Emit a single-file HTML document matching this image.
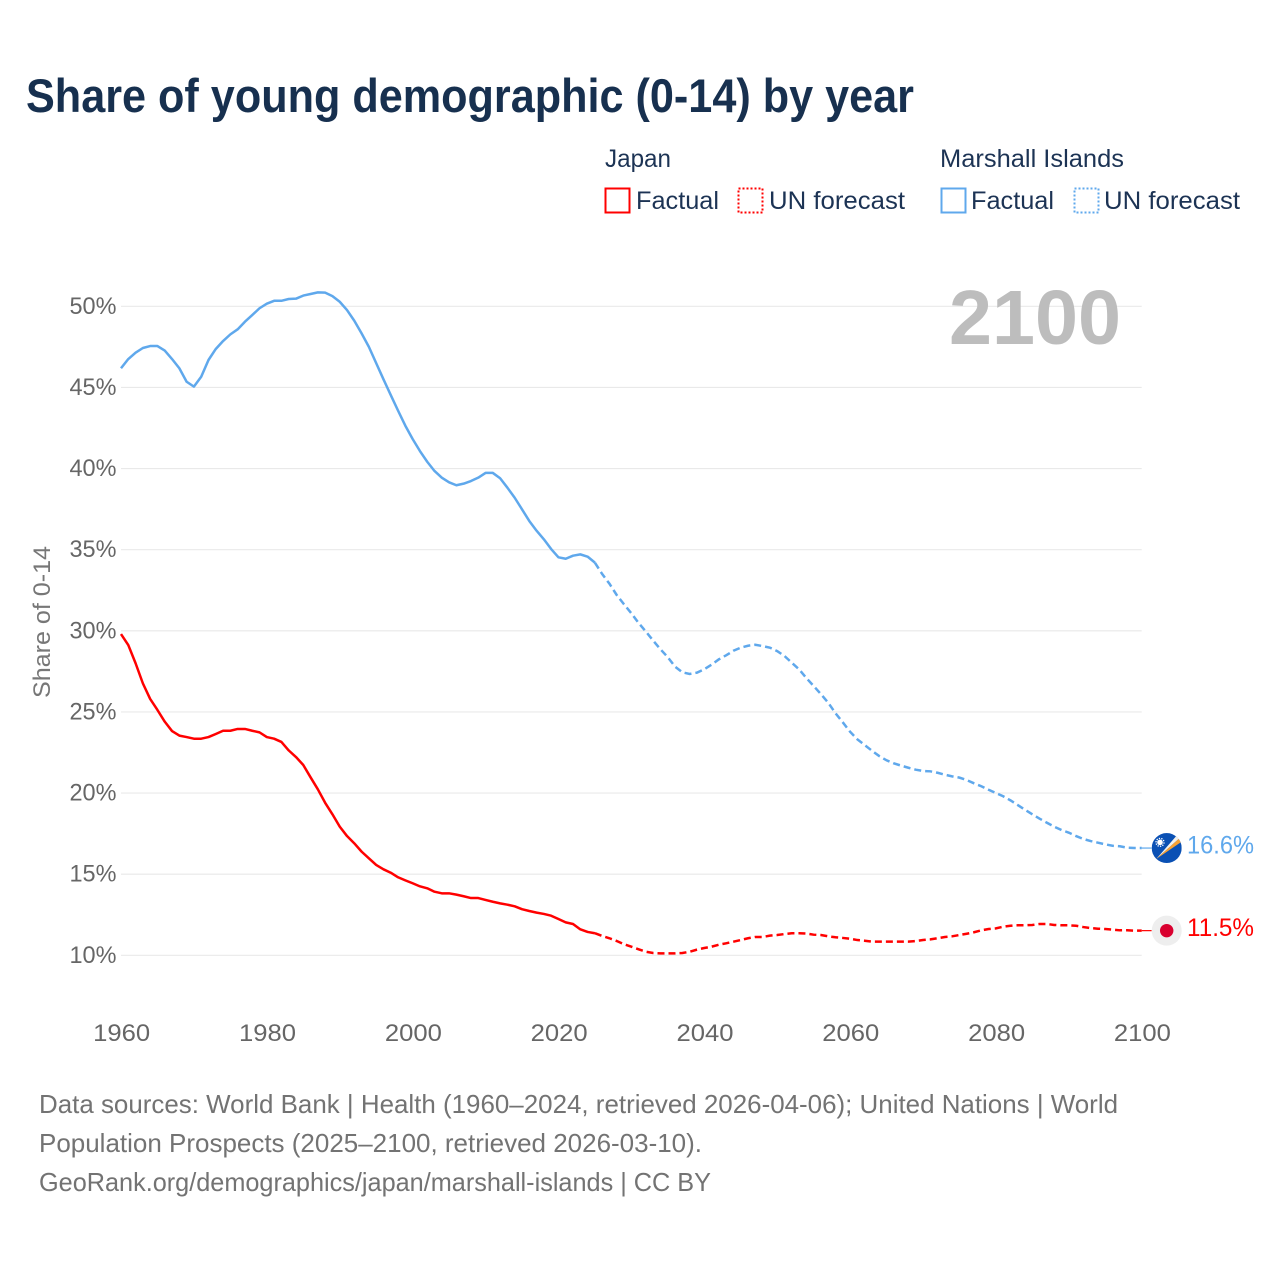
<!DOCTYPE html>
<html lang="en">
<head>
<meta charset="utf-8">
<title>Share of young demographic (0-14) by year</title>
<style>
  html, body { margin: 0; padding: 0; background: #fff; }
  #chart { display: block; width: 1280px; height: 1280px; font-family: "Liberation Sans", sans-serif; }
</style>
</head>
<body>
<svg id="chart" xmlns="http://www.w3.org/2000/svg" width="1280" height="1280" viewBox="0 0 1280 1280">
  <rect x="0" y="0" width="1280" height="1280" fill="#ffffff"/>
  <text x="26" y="112" font-size="47" font-weight="700" fill="#17304f" textLength="888" lengthAdjust="spacingAndGlyphs">Share of young demographic (0-14) by year</text>

  <g font-size="25" fill="#1c3354">
    <text x="605" y="167" textLength="66" lengthAdjust="spacingAndGlyphs">Japan</text>
    <text x="940" y="167" textLength="184" lengthAdjust="spacingAndGlyphs">Marshall Islands</text>
    <rect x="605.5" y="188.5" width="24" height="24" fill="none" stroke="#ff0000" stroke-width="2"/>
    <text x="636" y="209" textLength="83" lengthAdjust="spacingAndGlyphs">Factual</text>
    <rect x="738.5" y="188.5" width="24" height="24" fill="none" stroke="#ff0000" stroke-width="2" stroke-dasharray="2 2"/>
    <text x="769" y="209" textLength="136" lengthAdjust="spacingAndGlyphs">UN forecast</text>
    <rect x="941.5" y="188.5" width="24" height="24" fill="none" stroke="#5fa8ec" stroke-width="2"/>
    <text x="971" y="209" textLength="83" lengthAdjust="spacingAndGlyphs">Factual</text>
    <rect x="1074.5" y="188.5" width="24" height="24" fill="none" stroke="#5fa8ec" stroke-width="2" stroke-dasharray="2 2"/>
    <text x="1104" y="209" textLength="136" lengthAdjust="spacingAndGlyphs">UN forecast</text>
  </g>

  <g id="grid"></g>
  <g id="y-ticks" font-size="24" fill="#666666" text-anchor="end"></g>
  <g id="x-ticks" font-size="24" fill="#666666" text-anchor="middle"></g>
  <text transform="translate(50 622) rotate(-90)" text-anchor="middle" font-size="24" fill="#777777" textLength="152" lengthAdjust="spacingAndGlyphs">Share of 0-14</text>

  <text x="949" y="344" font-size="77" font-weight="700" fill="#bdbdbd" textLength="172" lengthAdjust="spacingAndGlyphs">2100</text>

  <g id="series"></g>
  <g id="end-markers"></g>

  <g font-size="26" fill="#737373">
    <text x="39" y="1113" textLength="1079" lengthAdjust="spacingAndGlyphs">Data sources: World Bank | Health (1960–2024, retrieved 2026-04-06); United Nations | World</text>
    <text x="39" y="1152" textLength="663" lengthAdjust="spacingAndGlyphs">Population Prospects (2025–2100, retrieved 2026-03-10).</text>
    <text x="39" y="1191" textLength="672" lengthAdjust="spacingAndGlyphs">GeoRank.org/demographics/japan/marshall-islands | CC BY</text>
  </g>
</svg>
<script>
const firstYear = 1960;
const lastFactualYear = 2025;
const xTickYears = [1960, 1980, 2000, 2020, 2040, 2060, 2080, 2100];
const xTickLabels = ["1960", "1980", "2000", "2020", "2040", "2060", "2080", "2100"];
const yTickValues = [10, 15, 20, 25, 30, 35, 40, 45, 50];
const yTickLabels = ["10%", "15%", "20%", "25%", "30%", "35%", "40%", "45%", "50%"];
const japanValues = [
  29.8,29.12,28.0,26.76,25.8,25.12,24.4,23.82,23.54,23.45,
  23.35,23.35,23.45,23.64,23.84,23.84,23.95,23.95,23.84,23.74,
  23.45,23.35,23.15,22.63,22.22,21.73,20.97,20.23,19.4,18.69,
  17.93,17.35,16.9,16.39,15.98,15.57,15.3,15.09,14.81,14.62,
  14.44,14.25,14.13,13.92,13.82,13.82,13.74,13.64,13.53,13.53,
  13.41,13.3,13.2,13.12,13.02,12.84,12.73,12.63,12.55,12.44,
  12.24,12.03,11.93,11.6,11.44,11.36,11.19,11.05,10.88,10.68,
  10.53,10.37,10.22,10.14,10.12,10.12,10.12,10.14,10.22,10.35,
  10.45,10.53,10.65,10.74,10.84,10.94,11.05,11.13,11.13,11.21,
  11.25,11.31,11.36,11.36,11.34,11.27,11.25,11.17,11.11,11.07,
  11.02,10.94,10.9,10.84,10.84,10.84,10.84,10.84,10.84,10.88,
  10.94,10.98,11.05,11.13,11.17,11.25,11.33,11.42,11.54,11.62,
  11.66,11.76,11.82,11.85,11.85,11.87,11.93,11.93,11.87,11.85,
  11.85,11.82,11.74,11.68,11.64,11.62,11.58,11.54,11.54,11.52,
  11.52
];
const marshallValues = [
  46.18,46.75,47.14,47.43,47.55,47.55,47.27,46.75,46.18,45.35,
  45.05,45.66,46.69,47.37,47.86,48.27,48.58,49.05,49.46,49.88,
  50.16,50.34,50.34,50.45,50.47,50.66,50.76,50.86,50.84,50.63,
  50.28,49.77,49.11,48.33,47.5,46.5,45.5,44.53,43.57,42.64,
  41.82,41.08,40.42,39.85,39.44,39.15,38.97,39.07,39.23,39.44,
  39.73,39.73,39.4,38.82,38.2,37.49,36.77,36.17,35.64,35.04,
  34.53,34.44,34.63,34.71,34.57,34.2,33.5,32.9,32.2,31.63,
  31.08,30.48,29.95,29.39,28.86,28.37,27.79,27.44,27.34,27.42,
  27.63,27.91,28.24,28.49,28.77,28.96,29.08,29.14,29.06,28.96,
  28.75,28.45,28.03,27.63,27.09,26.6,26.1,25.57,24.92,24.36,
  23.78,23.31,22.96,22.61,22.28,22.02,21.83,21.69,21.56,21.44,
  21.36,21.34,21.25,21.13,21.03,20.95,20.8,20.6,20.42,20.2,
  20.0,19.8,19.55,19.26,18.97,18.69,18.42,18.17,17.93,17.72,
  17.56,17.35,17.17,17.04,16.94,16.84,16.75,16.72,16.63,16.61,
  16.61
];

const NS = "http://www.w3.org/2000/svg";
const xScale = year => 121 + (year - 1960) * (1020.7 / 140);
const yScale = value => 955.3 - (value - 10) * 16.225;
const RED = "#ff0000";
const BLUE = "#5fa8ec";

function svgEl(tag, attrs, parent) {
  const el = document.createElementNS(NS, tag);
  for (const key in attrs) el.setAttribute(key, attrs[key]);
  parent.appendChild(el);
  return el;
}

const grid = document.getElementById("grid");
const yTicks = document.getElementById("y-ticks");
yTickValues.forEach((value, i) => {
  const line = svgEl("line", { x1: xScale(1960), x2: xScale(2100), y1: yScale(value), y2: yScale(value), stroke: "#e9e9e9", "stroke-width": 1.2 }, grid);
  
  
  const label = svgEl("text", { x: 116.5, y: yScale(value) + 7.5, textLength: 47, lengthAdjust: "spacingAndGlyphs" }, yTicks);
  
  
  label.textContent = yTickLabels[i];
});

const xTicks = document.getElementById("x-ticks");
xTickYears.forEach((year, i) => {
  const label = svgEl("text", { x: xScale(year) + 0.7, y: 1041, textLength: 57, lengthAdjust: "spacingAndGlyphs" }, xTicks);
  
  
  label.textContent = xTickLabels[i];
});

function pathFor(values, startYear, endYear) {
  let d = "";
  for (let year = startYear; year <= endYear; year++) {
    const v = values[year - firstYear];
    d += (d ? "L" : "M") + xScale(year).toFixed(2) + " " + yScale(v).toFixed(2);
  }
  return d;
}

const seriesGroup = document.getElementById("series");
const lastYear = firstYear + japanValues.length - 1;

const marshallFactual = svgEl("path", { d: pathFor(marshallValues, firstYear, lastFactualYear), fill: "none", stroke: BLUE, "stroke-width": 2.5, "stroke-linejoin": "round" }, seriesGroup);


const marshallForecast = svgEl("path", { d: pathFor(marshallValues, lastFactualYear, lastYear), fill: "none", stroke: BLUE, "stroke-width": 2.5, "stroke-dasharray": "7 4" }, seriesGroup);


const japanFactual = svgEl("path", { d: pathFor(japanValues, firstYear, lastFactualYear), fill: "none", stroke: RED, "stroke-width": 2.5, "stroke-linejoin": "round" }, seriesGroup);


const japanForecast = svgEl("path", { d: pathFor(japanValues, lastFactualYear, lastYear), fill: "none", stroke: RED, "stroke-width": 2.5, "stroke-dasharray": "7 4" }, seriesGroup);



const markers = document.getElementById("end-markers");
const mY = yScale(marshallValues[marshallValues.length - 1]);
const jY = yScale(japanValues[japanValues.length - 1]);
const endX = xScale(lastYear);

const marshallConnector = svgEl("line", { x1: endX, x2: endX + 10, y1: mY, y2: mY, stroke: BLUE, "stroke-width": 1.2 }, markers);


const japanConnector = svgEl("line", { x1: endX, x2: endX + 10, y1: jY, y2: jY, stroke: RED, "stroke-width": 1.2 }, markers);



const defs = svgEl("defs", {}, markers);
const clip = svgEl("clipPath", { id: "flag-clip" }, defs);
svgEl("circle", { cx: 0, cy: 0, r: 15 }, clip);

const marshallFlag = svgEl("g", { transform: "translate(" + (endX + 25) + " " + mY + ")", "clip-path": "url(#flag-clip)" }, markers);


svgEl("rect", { x: -15, y: -15, width: 30, height: 30, fill: "#0a50b4" }, marshallFlag);
svgEl("polygon", { points: "-10.5,11 10.5,-13 13,-10", fill: "#f4f1ea" }, marshallFlag);
svgEl("polygon", { points: "-10.5,11 13,-10 14.5,-6", fill: "#f9a233" }, marshallFlag);
svgEl("circle", { cx: -6.7, cy: -5.7, r: 2.8, fill: "#ffffff" }, marshallFlag);
svgEl("circle", { cx: -6.7, cy: -5.7, r: 4, fill: "none", stroke: "#ffffff", "stroke-width": 1.3, "stroke-dasharray": "1.3 1.2" }, marshallFlag);

const japanFlag = svgEl("g", { transform: "translate(" + (endX + 25) + " " + jY + ")" }, markers);


svgEl("circle", { cx: 0, cy: 0, r: 15, fill: "#eeeeee" }, japanFlag);
svgEl("circle", { cx: 0, cy: 0, r: 6.7, fill: "#d9002f" }, japanFlag);

const marshallLabel = svgEl("text", { x: 1187, y: mY + 5.5, "font-size": 25, fill: BLUE, textLength: 67, lengthAdjust: "spacingAndGlyphs" }, markers);


marshallLabel.textContent = marshallValues[marshallValues.length - 1].toFixed(1) + "%";
const japanLabel = svgEl("text", { x: 1187, y: jY + 5.5, "font-size": 25, fill: RED, textLength: 67, lengthAdjust: "spacingAndGlyphs" }, markers);


japanLabel.textContent = japanValues[japanValues.length - 1].toFixed(1) + "%";
</script>
</body>
</html>
